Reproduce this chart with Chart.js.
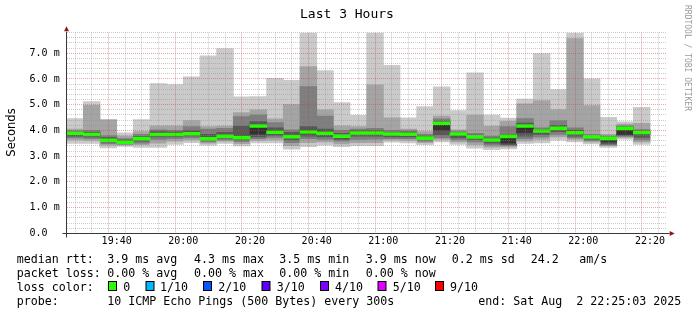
<!DOCTYPE html>
<html><head><meta charset="utf-8">
<script src="https://cdn.jsdelivr.net/npm/chart.js@4/dist/chart.umd.min.js"></script>
<style>
html,body{margin:0;padding:0;background:#fff;}
#wrap{position:relative;width:697px;height:315px;overflow:hidden;}
#c{position:absolute;left:0;top:0;}
#ov{position:absolute;left:0;top:0;pointer-events:none;}
#ov text{white-space:pre;font-family:"DejaVu Sans Mono";fill:#000;}
</style></head><body>
<div id="wrap">
<canvas id="c" width="697" height="315"></canvas>
<svg id="ov" width="697" height="315" xmlns="http://www.w3.org/2000/svg">
  <text x="300" y="18.3" font-size="13">Last 3 Hours</text>
  <text transform="translate(15.3,132.5) rotate(-90)" text-anchor="middle" font-size="11.5" style="font-family:'DejaVu Sans'">Seconds</text>
  <text transform="translate(685,5) rotate(90)" font-size="8" style="fill:#9a9a9a">RRDTOOL / TOBI OETIKER</text>

  <text x="16.7" y="263" font-size="11.63">median rtt:</text>
  <text x="107.3" y="263" font-size="11.63">3.9 ms avg</text>
  <text x="194" y="263" font-size="11.63">4.3 ms max</text>
  <text x="279.3" y="263" font-size="11.63">3.5 ms min</text>
  <text x="365.7" y="263" font-size="11.63">3.9 ms now</text>
  <text x="451.7" y="263" font-size="11.63">0.2 ms sd</text>
  <text x="530.7" y="263" font-size="11.63">24.2</text>
  <text x="579.3" y="263" font-size="11.63">am/s</text>

  <text x="16.7" y="277" font-size="11.63">packet loss:</text>
  <text x="107.3" y="277" font-size="11.63">0.00 % avg</text>
  <text x="194" y="277" font-size="11.63">0.00 % max</text>
  <text x="279.3" y="277" font-size="11.63">0.00 % min</text>
  <text x="365.7" y="277" font-size="11.63">0.00 % now</text>

  <text x="16.7" y="291" font-size="11.63">loss color:</text>
  <g id="lossRow"></g>

  <text x="16.7" y="305" font-size="11.63">probe:</text>
  <text x="107.3" y="305" font-size="11.63">10 ICMP Echo Pings (500 Bytes) every 300s</text>
  <text x="478.3" y="305" font-size="11.63">end: Sat Aug  2 22:25:03 2025</text>
</svg>
</div>
<script>
// ---- data ----
const slots = ['19:25','19:30','19:35','19:40','19:45','19:50','19:55','20:00','20:05','20:10',
               '20:15','20:20','20:25','20:30','20:35','20:40','20:45','20:50','20:55','21:00',
               '21:05','21:10','21:15','21:20','21:25','21:30','21:35','21:40','21:45','21:50',
               '21:55','22:00','22:05','22:10','22:15'];
// sorted ping round-trip times per 5-minute slot (ms)
const ping1  = [3.50,3.50,3.32,3.38,3.34,3.34,3.46,3.53,3.43,3.50,3.40,3.52,3.52,3.27,3.37,3.43,3.37,3.41,3.41,3.55,3.52,3.45,3.56,3.46,3.31,3.25,3.28,3.50,3.52,3.62,3.56,3.48,3.34,3.66,3.46];
const ping2  = [3.60,3.58,3.40,3.41,3.42,3.48,3.55,3.60,3.48,3.55,3.46,3.58,3.60,3.38,3.50,3.52,3.45,3.50,3.50,3.60,3.58,3.50,3.62,3.52,3.42,3.32,3.33,3.56,3.62,3.72,3.62,3.52,3.38,3.70,3.52];
const ping3  = [3.68,3.65,3.46,3.44,3.48,3.62,3.65,3.68,3.52,3.60,3.53,3.65,3.70,3.50,3.65,3.62,3.55,3.62,3.63,3.65,3.65,3.55,3.68,3.60,3.52,3.40,3.38,3.65,3.72,3.82,3.68,3.57,3.41,3.74,3.60];
const ping4  = [3.75,3.72,3.52,3.47,3.55,3.72,3.73,3.76,3.57,3.66,3.60,3.72,3.78,3.60,3.75,3.72,3.62,3.75,3.75,3.72,3.72,3.60,3.80,3.68,3.62,3.48,3.42,3.75,3.82,3.92,3.75,3.63,3.45,3.78,3.70];
const ping5  = [3.85,3.80,3.58,3.51,3.62,3.80,3.80,3.83,3.63,3.73,3.66,3.83,3.88,3.70,3.85,3.84,3.72,3.85,3.85,3.80,3.80,3.66,3.98,3.78,3.70,3.58,3.48,3.89,3.93,4.02,3.85,3.70,3.52,3.82,3.85];
const ping6  = [3.91,3.87,3.66,3.57,3.71,3.88,3.88,3.91,3.72,3.81,3.80,4.22,3.98,3.82,4.00,3.94,3.82,3.93,3.94,3.89,3.88,3.74,4.31,3.88,3.79,3.66,3.80,4.22,4.01,4.12,3.95,3.78,3.72,4.11,3.95];
const ping7  = [3.94,3.92,3.72,3.62,3.77,3.95,3.93,3.98,3.85,3.92,4.17,4.34,4.10,3.92,4.15,4.05,3.88,3.98,3.98,3.92,3.93,3.78,4.36,3.90,3.82,3.70,3.85,4.28,4.04,4.20,4.00,3.80,3.74,4.14,3.97];
const ping8  = [3.98,4.00,3.80,3.68,3.85,4.02,4.00,4.15,4.05,4.08,4.54,4.60,4.30,4.02,5.70,4.56,4.00,4.05,4.08,4.00,3.98,3.85,4.45,3.95,3.88,3.78,4.15,4.46,4.10,4.38,4.10,3.85,3.78,4.18,4.03];
const ping9  = [4.05,4.97,4.40,3.78,3.95,4.18,4.18,4.38,4.15,4.17,4.69,4.80,4.45,5.00,6.48,4.80,4.18,4.15,5.77,4.49,4.05,3.95,4.56,4.02,4.59,4.17,4.35,5.03,5.16,4.81,7.57,4.96,3.85,4.24,4.27];
const ping10 = [4.46,5.12,4.43,3.90,4.42,5.82,5.78,6.08,6.90,7.18,5.30,5.31,6.02,5.95,7.80,6.32,5.08,4.58,7.80,6.53,4.49,4.92,5.69,4.77,6.24,4.59,4.48,5.22,6.99,5.59,7.79,6.00,4.51,4.33,4.90];
const median = [3.89,3.84,3.62,3.54,3.68,3.84,3.84,3.87,3.67,3.77,3.72,4.17,3.93,3.76,3.94,3.89,3.78,3.90,3.90,3.86,3.85,3.70,4.28,3.86,3.75,3.63,3.77,4.17,3.98,4.08,3.91,3.75,3.69,4.08,3.92];

const xTickLabels = ['19:40','20:00','20:20','20:40','21:00','21:20','21:40','22:00','22:20'];
const yTickLabels = ['0.0  ','1.0 m','2.0 m','3.0 m','4.0 m','5.0 m','6.0 m','7.0 m'];
const lossLabels = ['0','1/10','2/10','3/10','4/10','5/10','9/10'];
const lossColors = ['#26ff00','#00b8ff','#0059ff','#5e00ff','#7e00ff','#dd00ff','#ff0000'];

// ---- styling ----
const smokeColors = ['#cacaca','#a4a4a4','#7e7e7e','#585858','#323232','#585858','#7e7e7e','#a4a4a4','#cacaca'];
const MAJOR = 'rgba(200,60,60,0.45)';
const MINOR = 'rgba(140,140,140,0.45)';
const lossBoxX = [108.5,146,203.5,262,320.5,378,435.5];
const lossTextX = [123.3,160,218.3,276.7,335,392.7,450];

// loss legend row
const row = document.getElementById('lossRow');
const NS = 'http://www.w3.org/2000/svg';
lossLabels.forEach((lab, i) => {
  const r = document.createElementNS(NS, 'rect');
  r.setAttribute('x', lossBoxX[i]); r.setAttribute('y', 281.5);
  r.setAttribute('width', 8); r.setAttribute('height', 9);
  r.setAttribute('fill', lossColors[i]); r.setAttribute('stroke', '#000'); r.setAttribute('stroke-width', 1);
  row.appendChild(r);
  const t = document.createElementNS(NS, 'text');
  t.setAttribute('x', lossTextX[i]); t.setAttribute('y', 291); t.setAttribute('font-size', '11.63');
  t.textContent = lab;
  row.appendChild(t);
});

const toMin = s => parseInt(s.slice(0, 2), 10) * 60 + parseInt(s.slice(3), 10);
const STEP = 5;
const xMin = toMin(slots[0]);
const xMax = toMin('22:25');
const pings = [ping1, ping2, ping3, ping4, ping5, ping6, ping7, ping8, ping9, ping10];

const common = {barPercentage: 1, categoryPercentage: 1, grouped: false, borderWidth: 0, inflateAmount: 0.4};
const datasets = [Object.assign({
  label: 'median',
  data: slots.map((s, i) => ({x: toMin(s) + STEP / 2, y: [median[i] - 0.055, median[i] + 0.055]})),
  backgroundColor: lossColors[0]
}, common)];
for (let j = 0; j < 9; j++) {
  datasets.push(Object.assign({
    label: 'smoke' + j,
    data: slots.map((s, i) => ({x: toMin(s) + STEP / 2, y: [pings[j][i], pings[j + 1][i]]})),
    backgroundColor: smokeColors[j]
  }, common));
}

const axesPlugin = {
  id: 'rrdAxes',
  afterDraw(chart) {
    const {ctx, chartArea: a} = chart;
    const ax = Math.floor(a.left) + 0.5;
    const ay = Math.floor(a.bottom) + 0.5;
    ctx.save();
    ctx.strokeStyle = '#3a3a3a';
    ctx.lineWidth = 1;
    ctx.beginPath();
    ctx.moveTo(ax, ay + 4); ctx.lineTo(ax, a.top - 1);
    ctx.moveTo(ax - 4, ay); ctx.lineTo(a.right + 3, ay);
    ctx.stroke();
    ctx.fillStyle = '#8b1a1a';
    ctx.beginPath();
    ctx.moveTo(ax, a.top - 6.5); ctx.lineTo(ax + 2.5, a.top - 1.5); ctx.lineTo(ax - 2.5, a.top - 1.5); ctx.closePath();
    ctx.fill();
    ctx.beginPath();
    ctx.moveTo(a.right + 8, ay); ctx.lineTo(a.right + 3, ay - 2.5); ctx.lineTo(a.right + 3, ay + 2.5); ctx.closePath();
    ctx.fill();
    ctx.restore();
  }
};

const tickFont = {family: 'DejaVu Sans Mono', size: 10};
new Chart(document.getElementById('c'), {
  type: 'bar',
  data: {datasets},
  plugins: [axesPlugin],
  options: {
    responsive: false, animation: false, devicePixelRatio: 1,
    layout: {padding: {left: 0, right: 30.33, top: 32.7, bottom: 0}},
    plugins: {legend: {display: false}, tooltip: {enabled: false}, title: {display: false}},
    scales: {
      x: {
        type: 'linear', min: xMin, max: xMax, offset: false,
        ticks: {
          stepSize: STEP, autoSkip: false, maxRotation: 0, padding: 2, color: '#000', font: tickFont,
          callback: v => { const i = xTickLabels.findIndex(l => Math.abs(toMin(l) - v) < 0.01); return i >= 0 ? xTickLabels[i] : ''; }
        },
        grid: {z: 1, drawTicks: false, lineWidth: 1,
          color: c => (c.tick && Math.round(c.tick.value) % 20 === 0) ? MAJOR : MINOR},
        border: {display: false, dash: [1, 1]},
        afterFit: s => { s.height = 81.7; }
      },
      y: {
        min: 0, max: 7.8,
        ticks: {
          stepSize: 0.2, autoSkip: false, padding: 7, color: '#000', font: tickFont,
          callback: v => { const r = Math.round(v); return Math.abs(v - r) < 1e-6 && yTickLabels[r] ? yTickLabels[r] : ''; }
        },
        grid: {z: 1, drawTicks: false, lineWidth: 1,
          color: c => (c.tick && Math.abs(c.tick.value - Math.round(c.tick.value)) < 1e-6) ? MAJOR : MINOR},
        border: {display: false, dash: [1, 1]},
        afterFit: s => { s.width = 66.67; }
      }
    }
  }
});
</script>
</body></html>
